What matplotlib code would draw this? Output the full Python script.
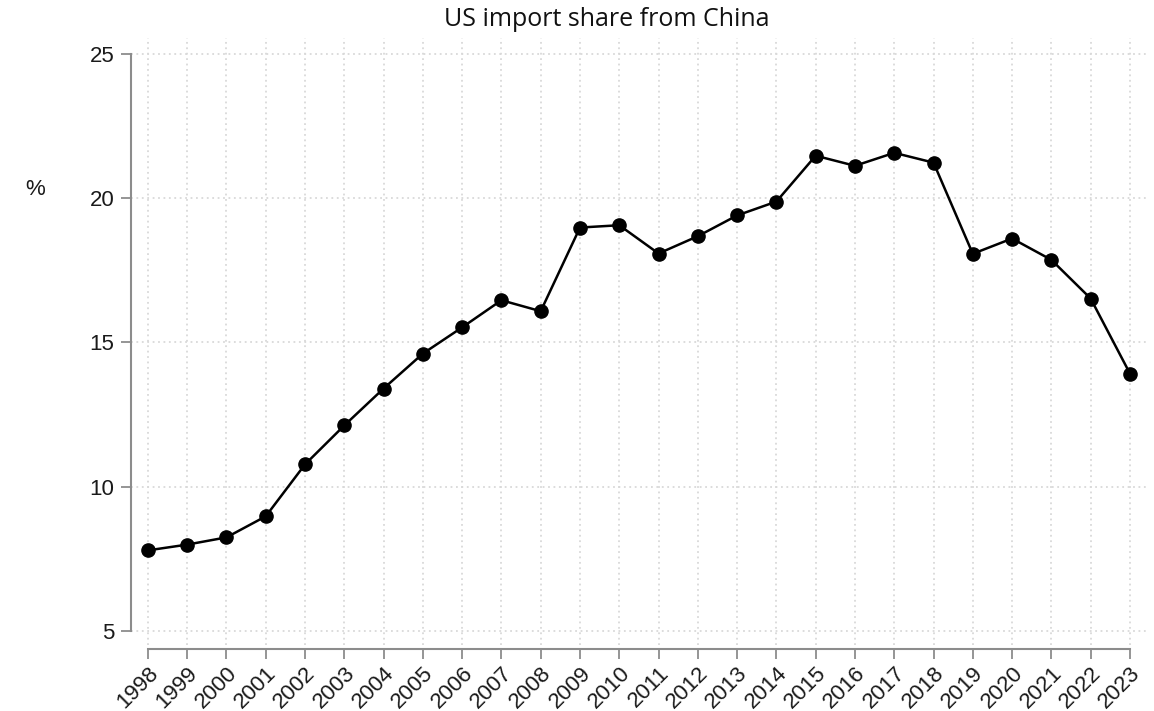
import matplotlib
matplotlib.use("Agg")
import matplotlib.pyplot as plt

plt.rcParams["font.family"] = ["Liberation Sans", "DejaVu Sans"]

years = list(range(1998, 2024))
share = [7.79, 7.99, 8.24, 8.97, 10.77, 12.12, 13.40, 14.61, 15.52, 16.46, 16.08,
         18.98, 19.06, 18.08, 18.68, 19.40, 19.88, 21.47, 21.12, 21.57, 21.23,
         18.07, 18.60, 17.86, 16.52, 13.92]
yticks = [5, 10, 15, 20, 25]

W, H = 1154, 711
fig = plt.figure(figsize=(W / 100, H / 100), dpi=100)
left, right, top, bottom = 131, 1148, 38, 645
ax = fig.add_axes([left / W, 1 - bottom / H, (right - left) / W, (bottom - top) / H])

ax.set_xlim(1997.57, 2023.46)
ax.set_ylim(4.51, 25.55)

grid_c = "#d9d9d9"
for y in yticks:
    ax.axhline(y, color=grid_c, lw=1.3, ls=(0, (1, 2)), zorder=1)
for x in years:
    ax.axvline(x, color=grid_c, lw=1.3, ls=(0, (1, 2)), zorder=1)

ax.plot(years, share, color="black", lw=1.8, marker="o", markersize=9.5, zorder=3)

spine_c = "#8c8c8c"
for s in ["top", "right"]:
    ax.spines[s].set_visible(False)
ax.spines["left"].set_bounds(5, 25)
ax.spines["left"].set_color(spine_c)
ax.spines["left"].set_linewidth(1.5)
ax.spines["bottom"].set_position(("outward", 3))
ax.spines["bottom"].set_bounds(1998, 2023)
ax.spines["bottom"].set_color(spine_c)
ax.spines["bottom"].set_linewidth(1.5)

ax.set_yticks(yticks)
ax.set_yticklabels([str(v) for v in yticks])
ax.set_xticks(years)
ax.set_xticklabels([str(y) for y in years], rotation=45, ha="right", rotation_mode="anchor")
ax.tick_params(axis="both", colors=spine_c, length=7, width=1.3, labelsize=16,
               labelcolor="#1a1a1a")
ax.tick_params(axis="y", pad=5)
ax.tick_params(axis="x", pad=3)

fig.text(607 / W, 1 - 20 / H, "US import share from China", ha="center", va="center",
         fontsize=18, family=["Open Sans", "DejaVu Sans"], color="#111111")
fig.text(35 / W, 1 - 190 / H, "%", ha="center", va="center", fontsize=16,
         color="#1a1a1a")

fig.savefig("out.png", dpi=100, facecolor="white")
